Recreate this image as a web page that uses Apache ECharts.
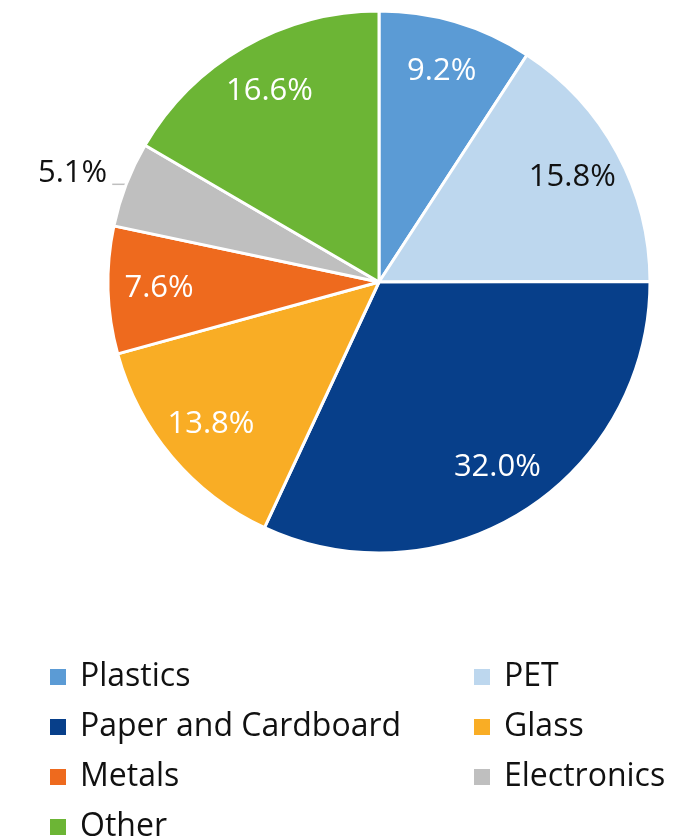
<!DOCTYPE html>
<html>
<head>
<meta charset="utf-8">
<style>
  html, body { margin: 0; padding: 0; background: #fff; }
  #chart { width: 682px; height: 839px; }
</style>
<script src="https://cdn.jsdelivr.net/npm/echarts@6/dist/echarts.min.js"></script>
</head>
<body>
<div id="chart"></div>
<script>
// data
const categories = ['Plastics', 'PET', 'Paper and Cardboard', 'Glass', 'Metals', 'Electronics', 'Other'];
const shares = [9.2, 15.8, 32.0, 13.8, 7.6, 5.1, 16.6];
const colors = ['#5b9bd5', '#bdd7ee', '#073f8a', '#f9ad25', '#ee6a1e', '#bfbfbf', '#6cb535'];
const labelColors = ['#fff', '#111', '#fff', '#fff', '#fff', '#111', '#fff'];

const leftLegend = ['Plastics', 'Paper and Cardboard', 'Metals', 'Other'];
const rightLegend = ['PET', 'Glass', 'Electronics'];

const FONT = '"Open Sans", sans-serif';

const chart = echarts.init(document.getElementById('chart'));

const pct = function (v) { return v.toFixed(1) + '%'; };

const pieData = categories.map(function (name, i) {
    return { name: name, value: shares[i], itemStyle: { color: colors[i] } };
});

// transparent copy of the pie, only there to put labels at ~80% of the radius
const labelData = categories.map(function (name, i) {
    const item = {
        name: name,
        value: shares[i],
        itemStyle: { color: 'rgba(0,0,0,0)', borderWidth: 0 },
        label: { color: labelColors[i] }
    };
    if (name === 'Electronics') {
        // small slice: label outside, a bit above its short grey leader
        item.label = {
            position: 'outside',
            color: labelColors[i],
            formatter: function (p) { return '{t|' + pct(p.value) + '}\n{s|}'; },
            rich: {
                t: { fontFamily: FONT, fontSize: 31, color: '#111', lineHeight: 34 },
                s: { lineHeight: 22 }
            }
        };
        item.labelLine = { show: true, length: 0, length2: 14, lineStyle: { color: '#bfbfbf', width: 1.5 } };
    }
    return item;
});

const legendText = {
    fontFamily: FONT,
    fontSize: 32,
    color: '#111',
    lineHeight: 30,
    padding: [0, 0, 0, 8]
};

const option = {
    animation: false,
    legend: [
        {
            orient: 'vertical',
            left: 43,
            top: 656,
            height: 220,
            itemWidth: 18,
            itemHeight: 18,
            itemGap: 18,
            icon: 'rect',
            data: leftLegend,
            textStyle: legendText
        },
        {
            orient: 'vertical',
            left: 467,
            top: 656,
            height: 220,
            itemWidth: 18,
            itemHeight: 18,
            itemGap: 18,
            icon: 'rect',
            data: rightLegend,
            textStyle: legendText
        }
    ],
    series: [
        {
            type: 'pie',
            center: [379, 282],
            radius: [0, 271],
            startAngle: 90,
            clockwise: true,
            silent: true,
            label: { show: false },
            labelLine: { show: false },
            itemStyle: { borderColor: '#fff', borderWidth: 3 },
            data: pieData
        },
        {
            type: 'pie',
            center: [379, 282],
            radius: [163, 271],
            startAngle: 90,
            clockwise: true,
            silent: true,
            legendHoverLink: false,
            label: {
                show: true,
                position: 'inside',
                fontFamily: FONT,
                fontSize: 31,
                formatter: function (p) { return pct(p.value); }
            },
            labelLine: { show: false },
            data: labelData
        }
    ]
};

chart.setOption(option);
</script>
</body>
</html>
